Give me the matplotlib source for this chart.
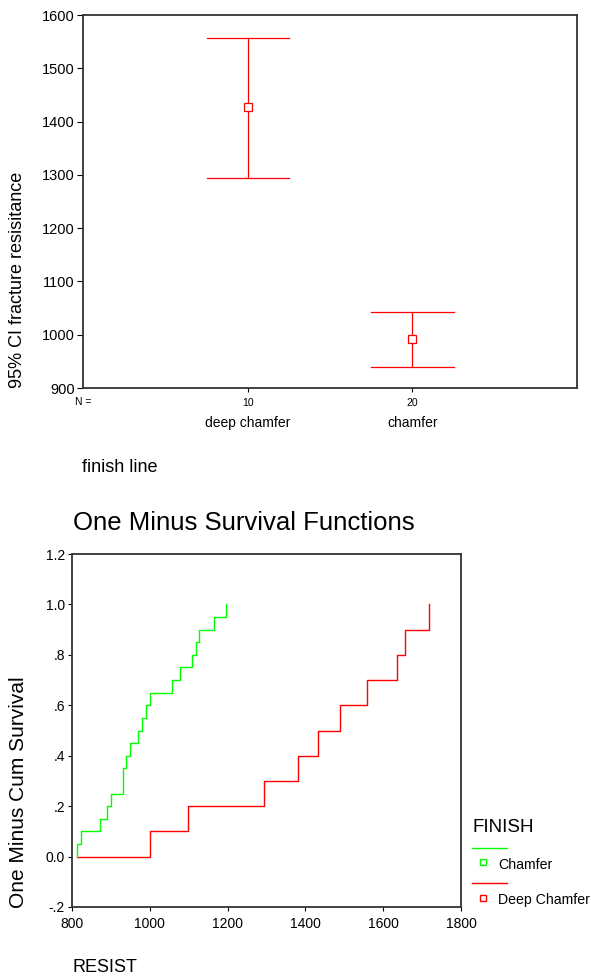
import matplotlib
matplotlib.use("Agg")
import matplotlib.pyplot as plt
import matplotlib.transforms as mtransforms
import numpy as np

plt.rcParams['font.family'] = ['Liberation Sans', 'DejaVu Sans']

# ---- Top chart: 95% CI error bars ----
categories = ["deep chamfer", "chamfer"]
n_values = ["10", "20"]
ci_mean = [1427, 992]
ci_lower = [1295, 939]
ci_upper = [1556, 1043]
top_yticks = [900, 1000, 1100, 1200, 1300, 1400, 1500, 1600]

# ---- Bottom chart: one minus survival ----
chamfer_times = [812, 823, 873, 889, 899, 930, 930, 940, 950, 970, 980, 990,
                 1000, 1057, 1077, 1108, 1118, 1127, 1165, 1195]
deep_times = [1000, 1097, 1294, 1382, 1432, 1488, 1559, 1636, 1656, 1717]
bot_xticks = [800, 1000, 1200, 1400, 1600, 1800]
bot_yticks = [-0.2, 0.0, 0.2, 0.4, 0.6, 0.8, 1.0, 1.2]
bot_yticklabels = ["-.2", "0.0", ".2", ".4", ".6", ".8", "1.0", "1.2"]

RED = "#FF0000"
GREEN = "#00FF00"
SPINE = "#333333"

W, H = 591, 977
fig = plt.figure(figsize=(W / 100, H / 100), dpi=100)

def fx(px):
    return px / W

def fy(py):
    return 1 - py / H

# Top axes
ax1 = fig.add_axes([fx(83), fy(388), fx(577) - fx(83), fy(15) - fy(388)])
xpos = np.arange(1, len(categories) + 1)
for x, m, lo, hi in zip(xpos, ci_mean, ci_lower, ci_upper):
    ax1.plot([x, x], [lo, hi], color=RED, lw=0.9)
    ax1.plot([x - 0.25, x + 0.25], [lo, lo], color=RED, lw=0.9)
    ax1.plot([x - 0.25, x + 0.25], [hi, hi], color=RED, lw=0.9)
    ax1.plot([x], [m], marker='s', ms=6, mfc='white', mec=RED, mew=0.9, ls='none')
ax1.set_xlim(0, 3)
ax1.set_ylim(900, 1600)
ax1.set_yticks(top_yticks)
ax1.set_yticklabels([str(v) for v in top_yticks], fontsize=10.5)
ax1.set_xticks(xpos)
ax1.set_xticklabels(n_values, fontsize=7.5)
ax1.tick_params(axis='y', direction='out', length=4, width=0.8, pad=2)
ax1.tick_params(axis='x', direction='out', length=3, width=0.8, pad=4)
for s in ax1.spines.values():
    s.set_linewidth(1.3)
    s.set_color(SPINE)
tr1 = mtransforms.blended_transform_factory(ax1.transData, fig.transFigure)
for x, c in zip(xpos, categories):
    ax1.text(x, fy(423), c, transform=tr1, ha='center', va='center', fontsize=10)
fig.text(fx(83), fy(402), "N =", ha='center', va='center', fontsize=7.5)
fig.text(fx(82), fy(467), "finish line", ha='left', va='center', fontsize=13)
fig.text(fx(18), fy(388), "95% CI fracture resisitance", rotation=90,
         ha='center', va='bottom', fontsize=13)

# Bottom axes
ax2 = fig.add_axes([fx(72), fy(907), fx(461) - fx(72), fy(554) - fy(907)])
x0 = min(min(chamfer_times), min(deep_times))

def step_xy(times):
    t = np.sort(np.array(times, dtype=float))
    n = len(t)
    y = np.arange(1, n + 1) / n
    xs = np.concatenate([[x0], t])
    ys = np.concatenate([[0.0], y])
    return xs, ys

xs, ys = step_xy(deep_times)
ax2.step(xs, ys, where='post', color=RED, lw=1.0)
xs, ys = step_xy(chamfer_times)
ax2.step(xs, ys, where='post', color=GREEN, lw=1.0)
ax2.set_xlim(800, 1800)
ax2.set_ylim(-0.2, 1.2)
ax2.set_xticks(bot_xticks)
ax2.set_xticklabels([str(v) for v in bot_xticks], fontsize=10)
ax2.set_yticks(bot_yticks)
ax2.set_yticklabels(bot_yticklabels, fontsize=10)
ax2.tick_params(direction='out', length=3, width=0.8, pad=2)
ax2.tick_params(axis='x', pad=4)
for s in ax2.spines.values():
    s.set_linewidth(1.3)
    s.set_color(SPINE)
fig.text(fx(244), fy(523), "One Minus Survival Functions", ha='center', va='center',
         fontsize=18.5)
fig.text(fx(72), fy(967), "RESIST", ha='left', va='center', fontsize=13)
fig.text(fx(19), fy(908), "One Minus Cum Survival", rotation=90,
         ha='center', va='bottom', fontsize=15)

# Legend (manual)
fig.text(fx(472), fy(828), "FINISH", ha='left', va='center', fontsize=13.5)
fig.add_artist(plt.Line2D([fx(472), fx(507)], [fy(848), fy(848)], color=GREEN, lw=1.0,
                          transform=fig.transFigure))
fig.add_artist(plt.Line2D([fx(483)], [fy(862)], marker='s', ms=4, mfc='white', mec=GREEN,
                          mew=1.0, ls='none', transform=fig.transFigure))
fig.text(fx(498), fy(865), "Chamfer", ha='left', va='center', fontsize=10.2)
fig.add_artist(plt.Line2D([fx(472), fx(507)], [fy(883), fy(883)], color=RED, lw=1.0,
                          transform=fig.transFigure))
fig.add_artist(plt.Line2D([fx(483)], [fy(898)], marker='s', ms=4, mfc='white', mec=RED,
                          mew=1.0, ls='none', transform=fig.transFigure))
fig.text(fx(498), fy(900), "Deep Chamfer", ha='left', va='center', fontsize=10.2)

fig.savefig("out.png", dpi=100)
